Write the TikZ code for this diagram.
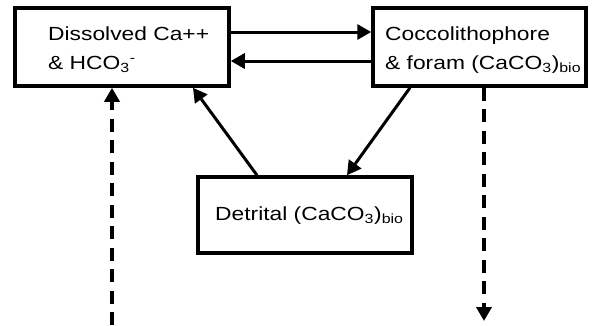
\documentclass[tikz,border=0pt]{standalone}
\usepackage{fontspec}
\setmainfont{Liberation Sans}
\usetikzlibrary{arrows.meta}
\newcommand\wtxt[1]{\scalebox{1.2}[1]{#1}}
\begin{document}
\begin{tikzpicture}[x=1pt,y=-1pt,
  box/.style={draw=black,line width=3.5pt,rectangle,inner sep=0pt},
  lbl/.style={anchor=base west,inner sep=0pt,font=\fontsize{19}{28}\selectfont,align=left},
  arr/.style={line width=3pt,-{Triangle[length=14pt,width=15pt]}},
  darr/.style={arr,line width=3.5pt,dash pattern=on 13pt off 8.5pt}]
\useasboundingbox (0,0) rectangle (592,325);
\node[box,minimum width=214pt,minimum height=78pt] (dis) at (122,47) {};
\node[box,minimum width=213pt,minimum height=78pt] (coc) at (479.5,47) {};
\node[box,minimum width=214pt,minimum height=76pt] (det) at (305,215) {};
\node[lbl] (tdis) at (48,69) {\wtxt{Dissolved Ca++}\\[1pt]\wtxt{\& HCO\textsubscript{3}\textsuperscript{-}}};
\node[lbl] (tcoc) at (385,69) {\wtxt{Coccolithophore}\\[1pt]\wtxt{\& foram (CaCO\textsubscript{3})\textsubscript{bio}}};
\node[lbl] (tdet) at (215,220) {\wtxt{Detrital (CaCO\textsubscript{3})\textsubscript{bio}}};
\coordinate (inbot) at (112,325);
\coordinate (outbot) at (484,321);
\draw[arr] (dis.east |- 0,32) -- (coc.west |- 0,32);
\draw[arr] (coc.west |- 0,61) -- (dis.east |- 0,61);
\draw[arr] (det.north -| 257,0) -- (dis.south -| 193,0);
\draw[arr] (coc.south -| 410,0) -- (det.north -| 347,0);
\draw[darr] (inbot) -- (dis.south -| inbot);
\draw[darr] (coc.south -| outbot) -- (outbot);
\end{tikzpicture}
\end{document}
